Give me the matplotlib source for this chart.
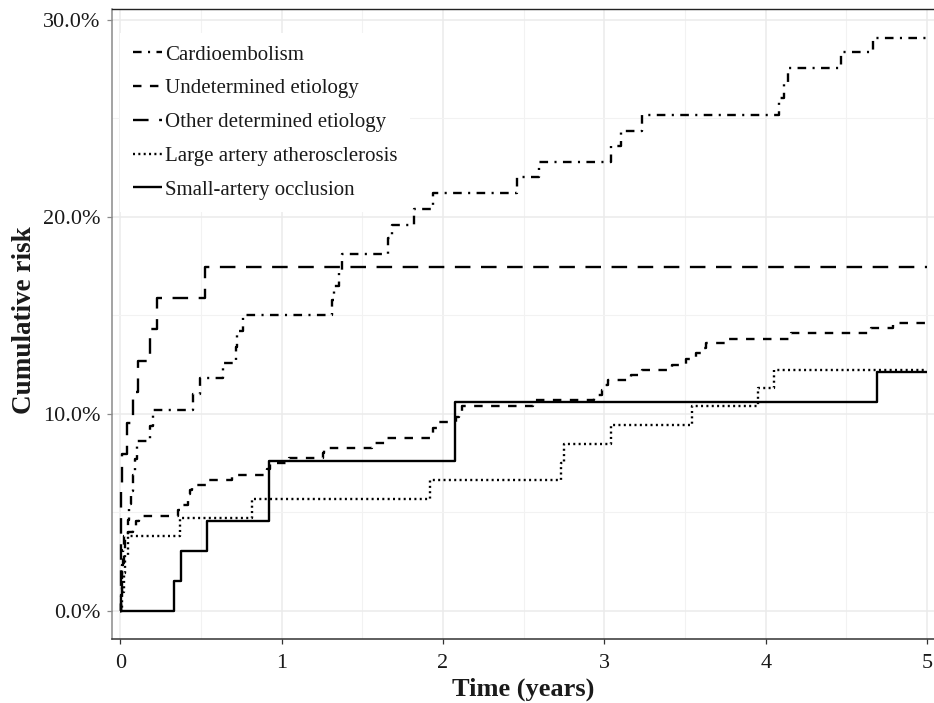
import matplotlib
matplotlib.use("Agg")
import matplotlib.pyplot as plt
from matplotlib.ticker import FuncFormatter, MultipleLocator

# ---------------- data (years, cumulative risk in %) ----------------
labels = ["Cardioembolism", "Undetermined etiology", "Other determined etiology",
          "Large artery atherosclerosis", "Small-artery occlusion"]

cardio_t = [0, 0.004, 0.008, 0.012, 0.018, 0.025, 0.045, 0.055, 0.065, 0.078,
            0.088, 0.1, 0.185, 0.2, 0.451, 0.493, 0.637, 0.715, 0.725, 0.76,
            1.309, 1.325, 1.355, 1.373, 1.66, 1.685, 1.82, 1.939, 2.46, 2.597,
            3.04, 3.103, 3.23, 4.084, 4.116, 4.137, 4.464, 4.665, 5.0]
cardio_y = [0, 0.8, 1.5, 2.3, 3.1, 3.8, 4.6, 5.4, 6.1, 6.9,
            7.7, 8.6, 9.4, 10.2, 11.0, 11.8, 12.6, 13.4, 14.2, 15.0,
            15.8, 16.5, 17.3, 18.1, 18.9, 19.6, 20.4, 21.2, 22.0, 22.8,
            23.6, 24.35, 25.15, 26.05, 26.75, 27.55, 28.35, 29.1, 29.1]

undet_t = [0, 0.004, 0.008, 0.012, 0.02, 0.03, 0.05, 0.08, 0.095, 0.115,
           0.36, 0.39, 0.42, 0.43, 0.445, 0.548, 0.693, 0.91, 0.93, 1.045,
           1.255, 1.265, 1.561, 1.654, 1.933, 1.94, 1.965, 2.08, 2.1, 2.12,
           2.555, 2.935, 2.987, 3.005, 3.02, 3.167, 3.23, 3.42, 3.504, 3.567,
           3.62, 3.63, 3.768, 4.158, 4.654, 4.79, 5.0]
undet_y = [0, 0.8, 1.6, 2.4, 3.1, 3.77, 4.0, 4.3, 4.55, 4.82,
           5.1, 5.35, 5.9, 6.15, 6.4, 6.65, 6.9, 7.2, 7.5, 7.75,
           8.0, 8.26, 8.51, 8.77, 9.02, 9.27, 9.6, 9.85, 10.1, 10.37,
           10.68, 10.93, 11.23, 11.45, 11.71, 11.99, 12.23, 12.5, 12.79, 13.09,
           13.33, 13.58, 13.82, 14.09, 14.34, 14.61, 14.61]

other_t = [0, 0.003, 0.005, 0.007, 0.038, 0.076, 0.11, 0.183, 0.224, 0.524, 5.0]
other_y = [0, 3.17, 6.35, 7.94, 9.52, 11.11, 12.70, 14.29, 15.87, 17.46, 17.46]

large_t = [0, 0.01, 0.02, 0.03, 0.05, 0.368, 0.817, 1.92, 2.73, 2.75,
           3.044, 3.54, 3.95, 4.05, 5.0]
large_y = [0, 0.94, 1.89, 2.83, 3.77, 4.70, 5.67, 6.61, 7.5, 8.46,
           9.43, 10.37, 11.3, 12.23, 12.23]

small_t = [0, 0.335, 0.376, 0.538, 0.92, 2.076, 4.69, 5.0]
small_y = [0, 1.52, 3.03, 4.55, 7.58, 10.61, 12.12, 12.12]

x_ticks = [0, 1, 2, 3, 4, 5]
y_ticks = [0, 10, 20, 30]

# ---------------- style ----------------
plt.rcParams['font.family'] = ['Liberation Serif', 'DejaVu Serif']
plt.rcParams['lines.scale_dashes'] = False

fig = plt.figure(figsize=(9.34, 7.03), dpi=100)
ax = fig.add_axes([112 / 934, 1 - 639 / 703, 822 / 934, (639 - 9.3) / 703])

series = [
    (cardio_t, cardio_y, (0, (6.2, 4.6, 1.5, 4.6))),
    (undet_t, undet_y, (0, (6.1, 6.1))),
    (other_t, other_y, (0, (11.2, 7.6))),
    (large_t, large_y, (0, (1.45, 2.4))),
    (small_t, small_y, '-'),
]
lw = 1.7
for (t, y, ls), lab in zip(series, labels):
    ax.step(t, y, where='post', color='black', linewidth=lw, linestyle=ls,
            label=lab, solid_capstyle='butt', dash_capstyle='butt')

ax.set_xlim(-0.052, 5.043)
ax.set_ylim(-1.44, 30.54)
ax.set_xticks(x_ticks)
ax.set_yticks(y_ticks)
ax.xaxis.set_minor_locator(MultipleLocator(0.5))
ax.yaxis.set_minor_locator(MultipleLocator(5))
ax.yaxis.set_major_formatter(FuncFormatter(lambda v, p: f"{v:.1f}%"))

ax.grid(which='major', color='#ebebeb', linewidth=1.1)
ax.grid(which='minor', color='#f2f2f2', linewidth=0.8)
ax.set_axisbelow(True)

ax.spines['right'].set_visible(False)
ax.spines['top'].set_color('#222222')
ax.spines['top'].set_linewidth(1.0)
ax.spines['left'].set_color('#8a8a8a')
ax.spines['left'].set_linewidth(1.1)
ax.spines['bottom'].set_color('#333333')
ax.spines['bottom'].set_linewidth(1.1)

ax.tick_params(axis='y', which='major', length=3.3, width=0.9, color='#8a8a8a',
               labelsize=16, labelcolor='#1a1a1a', pad=5)
ax.tick_params(axis='x', which='major', length=3.5, width=0.9, color='#333333',
               labelsize=16, labelcolor='#1a1a1a', pad=7.5)
ax.tick_params(which='minor', length=0)

ax.set_xlabel("Time (years)", fontsize=19, fontweight='bold', color='#1a1a1a')
ax.set_ylabel("Cumulative risk", fontsize=19.5, fontweight='bold', color='#1a1a1a')
ax.xaxis.set_label_coords(0.5, -0.061)
ax.yaxis.set_label_coords(-0.091, 0.507)

leg = ax.legend(loc='upper left', bbox_to_anchor=(0.01, 0.963), borderaxespad=0,
                fontsize=15, frameon=True, fancybox=False, framealpha=1,
                edgecolor='none', facecolor='white', handlelength=1.4,
                handletextpad=0.15, labelspacing=0.68, borderpad=0.6)
for txt in leg.get_texts():
    txt.set_color('#1a1a1a')

fig.savefig("out.png", dpi=100)
